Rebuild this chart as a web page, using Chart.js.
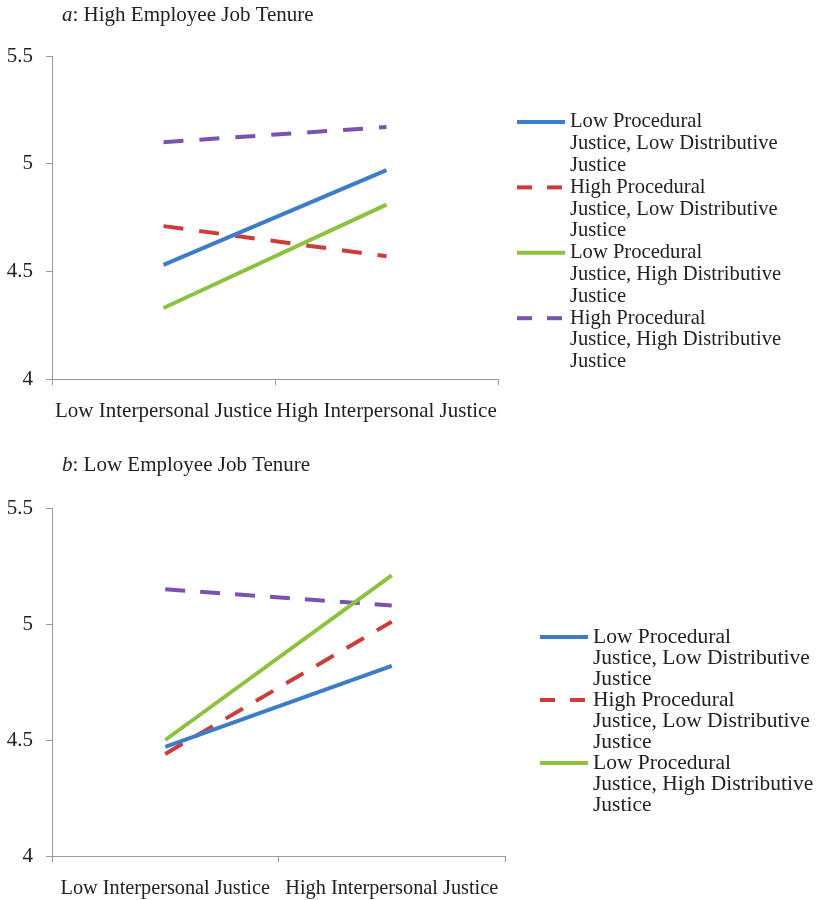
<!DOCTYPE html>
<html>
<head>
<meta charset="utf-8">
<script src="https://cdn.jsdelivr.net/npm/chart.js@4/dist/chart.umd.min.js"></script>
<style>html,body{margin:0;padding:0;background:#fff}</style>
</head>
<body>
<canvas id="chartA" width="816" height="440"></canvas>
<canvas id="chartB" width="816" height="460"></canvas>
<script>
// Interpersonal justice levels on the x axis
const categories = ['Low Interpersonal Justice', 'High Interpersonal Justice'];

// Series names (legend text, with line breaks)
const seriesNames = [
  'Low Procedural\nJustice, Low Distributive\nJustice',
  'High Procedural\nJustice, Low Distributive\nJustice',
  'Low Procedural\nJustice, High Distributive\nJustice',
  'High Procedural\nJustice, High Distributive\nJustice'
];

// Panel titles: italic letter + text
const panelLetters = ['a', 'b'];
const panelTitles = [': High Employee Job Tenure', ': Low Employee Job Tenure'];

// Panel a: high employee job tenure
const highTenureLowProcLowDist   = [4.53, 4.97];
const highTenureHighProcLowDist  = [4.71, 4.57];
const highTenureLowProcHighDist  = [4.33, 4.81];
const highTenureHighProcHighDist = [5.10, 5.17];

// Panel b: low employee job tenure
const lowTenureLowProcLowDist   = [4.47, 4.82];
const lowTenureHighProcLowDist  = [4.44, 5.01];
const lowTenureLowProcHighDist  = [4.50, 5.21];
const lowTenureHighProcHighDist = [5.15, 5.08];

// Y axis tick values and their labels
const yTicks = [4, 4.5, 5, 5.5];
const yTickLabels = ['4', '4.5', '5', '5.5'];

const colors = ['#3d7cc9', '#cc3d3a', '#8cc23f', '#7b52b0'];
const dashed = [false, true, false, true];
const FAMILY = "'Liberation Serif'";
const TEXT = '#222';
const AXIS = '#9a9a9a';

// Panel title with an italic leading letter
const panelTitle = {
  id: 'panelTitle',
  afterDraw(chart, args, opts) {
    const ctx = chart.ctx;
    ctx.save();
    ctx.fillStyle = TEXT;
    ctx.textBaseline = 'middle';
    ctx.textAlign = 'left';
    ctx.font = 'italic ' + opts.size + 'px ' + FAMILY;
    ctx.fillText(opts.letter, opts.x, opts.y);
    const w = ctx.measureText(opts.letter).width;
    ctx.font = opts.size + 'px ' + FAMILY;
    ctx.fillText(opts.text, opts.x + w, opts.y);
    ctx.restore();
  }
};

// Multi-line legend drawn at the right of the plot
const sideLegend = {
  id: 'sideLegend',
  afterDraw(chart, args, opts) {
    const ctx = chart.ctx;
    ctx.save();
    ctx.font = opts.fontSize + 'px ' + FAMILY;
    ctx.fillStyle = TEXT;
    ctx.textBaseline = 'middle';
    ctx.textAlign = 'left';
    let y = opts.top;
    opts.items.forEach(i => {
      const ds = chart.data.datasets[i];
      ctx.strokeStyle = ds.borderColor;
      ctx.lineWidth = ds.borderWidth;
      ctx.lineCap = 'butt';
      ctx.setLineDash(ds.borderDash.length ? [15, 15] : []);
      ctx.beginPath();
      ctx.moveTo(opts.x, y);
      ctx.lineTo(opts.x + opts.lineLen, y);
      ctx.stroke();
      const lines = ds.label.split('\n');
      lines.forEach((ln, k) => ctx.fillText(ln, opts.x + opts.lineLen + opts.gap, y + k * opts.lineHeight));
      y += lines.length * opts.lineHeight;
    });
    ctx.restore();
  }
};

function makeDatasets(series, dash) {
  return series.map((vals, i) => ({
    label: seriesNames[i],
    data: vals,
    borderColor: colors[i],
    backgroundColor: colors[i],
    borderWidth: 4,
    borderDash: dashed[i] ? dash : [],
    pointRadius: 0,
    tension: 0,
    fill: false
  }));
}

function makeChart(id, series, cfg) {
  return new Chart(document.getElementById(id), {
    type: 'line',
    data: { labels: categories, datasets: makeDatasets(series, cfg.dash) },
    plugins: [sideLegend, panelTitle],
    options: {
      responsive: false,
      animation: false,
      layout: { padding: cfg.padding },
      plugins: {
        legend: { display: false },
        tooltip: { enabled: false },
        sideLegend: cfg.legend,
        panelTitle: cfg.title
      },
      scales: {
        x: {
          offset: true,
          grid: { offset: true, drawOnChartArea: false, drawTicks: true, tickLength: 6, color: AXIS },
          border: { display: true, color: AXIS, width: 1 },
          ticks: { color: TEXT, font: { family: FAMILY, size: cfg.xFont }, padding: 14, maxRotation: 0, minRotation: 0, autoSkip: false },
          afterFit: s => { s.height = 44; }
        },
        y: {
          min: 4, max: 5.5,
          afterBuildTicks: s => { s.ticks = yTicks.map(v => ({ value: v })); },
          grid: { drawOnChartArea: false, drawTicks: true, tickLength: 6, color: AXIS },
          border: { display: true, color: AXIS, width: 1 },
          ticks: {
            color: TEXT, font: { family: FAMILY, size: 21 }, padding: 13,
            callback: v => yTickLabels[yTicks.indexOf(v)]
          },
          afterFit: s => { s.width = 52; }
        }
      }
    }
  });
}

makeChart('chartA', [
  highTenureLowProcLowDist, highTenureHighProcLowDist,
  highTenureLowProcHighDist, highTenureHighProcHighDist
], {
  dash: [20, 16],
  xFont: 21,
  padding: { top: 56, right: 318, bottom: 17, left: 0 },
  title: { letter: panelLetters[0], text: panelTitles[0], x: 62, y: 15, size: 21 },
  legend: { items: [0, 1, 2, 3], x: 517, top: 122, lineLen: 48, gap: 5, fontSize: 20.6, lineHeight: 21.8 }
});

makeChart('chartB', [
  lowTenureLowProcLowDist, lowTenureHighProcLowDist,
  lowTenureLowProcHighDist, lowTenureHighProcHighDist
], {
  dash: [20, 15],
  xFont: 20.3,
  padding: { top: 68, right: 311, bottom: 0, left: 0 },
  title: { letter: panelLetters[1], text: panelTitles[1], x: 62, y: 25, size: 21 },
  legend: { items: [0, 1, 2], x: 540, top: 197, lineLen: 48, gap: 5, fontSize: 21.5, lineHeight: 21 }
});
</script>
</body>
</html>
